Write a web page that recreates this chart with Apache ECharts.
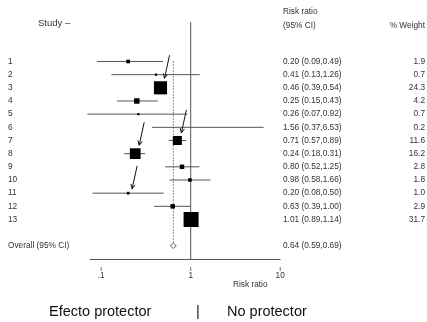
<!DOCTYPE html>
<html><head><meta charset="utf-8">
<script src="https://cdn.jsdelivr.net/npm/echarts@6/dist/echarts.min.js"></script>
<style>html,body{margin:0;padding:0;background:#fff}#c{width:427px;height:322px}</style>
</head><body><div id="c"></div>
<script>
const studies = ['1','2','3','4','5','6','7','8','9','10','11','12','13'];
const rr     = [0.20,0.41,0.46,0.25,0.26,1.56,0.71,0.24,0.80,0.98,0.20,0.63,1.01];
const lo     = [0.09,0.13,0.39,0.15,0.07,0.37,0.57,0.18,0.52,0.58,0.08,0.39,0.89];
const hi     = [0.49,1.26,0.54,0.43,0.92,6.53,0.89,0.31,1.25,1.66,0.50,1.00,1.14];
const weight = [1.9,0.7,24.3,4.2,0.7,0.2,11.6,16.2,2.8,1.8,1.0,2.9,31.7];
const overallLabel = 'Overall (95% CI)';
const overallRR = 0.64, overallLo = 0.59, overallHi = 0.69;
const tickValues = [0.1, 1, 10];
const tickLabels = ['.1', '1', '10'];
const arrowStudies = ['3','7','8','11'];

const FONT = 'Liberation Sans, Arial, sans-serif';
const TXT = '#333';
const LINE = '#555';
const RR_X = 283, W_X = 425, LAB_X = 8;
const maxW = Math.max.apply(null, weight);
function boxSide(w){ return 15*Math.sqrt(w/maxW); }
function fmtCI(a,b,c){ return a.toFixed(2)+' ('+b.toFixed(2)+','+c.toFixed(2)+')'; }

const studyData = studies.map((s,i)=>[rr[i], i+1, lo[i], hi[i], weight[i]]);
const overallRow = studies.length + 2;

const chart = echarts.init(document.getElementById('c'), null, {renderer:'canvas'});
chart.setOption({
  animation:false,
  grid:{left:90, right:146.8, top:8.8, bottom:63},
  xAxis:{type:'log', logBase:10, min:0.075, max:10, position:'bottom',
    axisLine:{show:true, onZero:false, lineStyle:{color:LINE, width:1}},
    axisTick:{show:false}, axisLabel:{show:false}, splitLine:{show:false}},
  yAxis:{type:'value', min:-3, max:16, inverse:true, show:false, splitLine:{show:false}},
  graphic:[
    {type:'text', left:38, top:18, style:{text:'Study \u2013', font:'9.5px '+FONT, fill:TXT}},
    {type:'text', left:RR_X, top:8, style:{text:'Risk ratio', font:'8.3px '+FONT, fill:TXT}},
    {type:'text', left:RR_X, top:22, style:{text:'(95% CI)', font:'8.3px '+FONT, fill:TXT}},
    {type:'text', right:2, top:22, style:{text:'% Weight', font:'8.3px '+FONT, fill:TXT}},
    {type:'text', left:233, top:281, style:{text:'Risk ratio', font:'8.3px '+FONT, fill:TXT}},
    {type:'text', left:49, top:304, style:{text:'Efecto protector', font:'14.5px '+FONT, fill:'#111'}},
    {type:'text', left:196, top:304, style:{text:'|', font:'14.5px '+FONT, fill:'#111'}},
    {type:'text', left:227, top:304, style:{text:'No protector', font:'14.5px '+FONT, fill:'#111'}}
  ],
  series:[
    { // reference line at 1 and axis ticks/labels
      type:'custom', clip:false, silent:true,
      data: tickValues.map((v,i)=>[v, 16, i]),
      renderItem:function(params, api){
        const v = api.value(0), idx = api.value(2);
        const p = api.coord([v, 16]);
        const ch = [
          {type:'line', shape:{x1:p[0], y1:p[1]+8, x2:p[0], y2:p[1]+12}, style:{stroke:'#777', lineWidth:1}},
          {type:'text', x:p[0], y:p[1]+13, style:{text:tickLabels[idx], font:'8.3px '+FONT, fill:TXT, align:'center', verticalAlign:'top'}}
        ];
        if (v === 1) {
          const t = api.coord([1, -2]);
          ch.push({type:'line', shape:{x1:t[0], y1:t[1], x2:p[0], y2:p[1]}, style:{stroke:LINE, lineWidth:1}});
        }
        return {type:'group', children:ch};
      }
    },
    { // studies
      type:'custom', clip:false, silent:true,
      data: studyData,
      renderItem:function(params, api){
        const i = params.dataIndex;
        const row = api.value(1);
        const p = api.coord([api.value(0), row]);
        const l = api.coord([api.value(2), row]);
        const h = api.coord([api.value(3), row]);
        const s = boxSide(api.value(4));
        const ch = [
          {type:'line', shape:{x1:l[0], y1:p[1], x2:h[0], y2:p[1]}, style:{stroke:LINE, lineWidth:1}},
          {type:'text', x:LAB_X, y:p[1], style:{text:studies[i], font:'8.3px '+FONT, fill:TXT, verticalAlign:'middle'}},
          {type:'text', x:RR_X, y:p[1], style:{text:fmtCI(rr[i],lo[i],hi[i]), font:'8.3px '+FONT, fill:TXT, verticalAlign:'middle'}},
          {type:'text', x:W_X, y:p[1], style:{text:weight[i].toFixed(1), font:'8.3px '+FONT, fill:TXT, align:'right', verticalAlign:'middle'}}
        ];
        if (s >= 1.5) ch.push({type:'rect', shape:{x:p[0]-s/2, y:p[1]-s/2, width:s, height:s}, style:{fill:'#000'}});
        return {type:'group', children:ch};
      }
    },
    { // overall
      type:'custom', clip:false, silent:true,
      data: [[overallRR, overallRow, overallLo, overallHi]],
      renderItem:function(params, api){
        const row = api.value(1);
        const p = api.coord([api.value(0), row]);
        const top = api.coord([api.value(0), 1]);
        const l = api.coord([api.value(2), row]);
        const h = api.coord([api.value(3), row]);
        const hh = 2.6;
        return {type:'group', children:[
          {type:'line', shape:{x1:p[0], y1:top[1], x2:p[0], y2:p[1]-hh}, style:{stroke:'#222', lineWidth:1, lineDash:[1,2]}},
          {type:'polygon', shape:{points:[[l[0],p[1]],[p[0],p[1]-hh],[h[0],p[1]],[p[0],p[1]+hh]]}, style:{fill:'#fff', stroke:'#666', lineWidth:1}},
          {type:'text', x:LAB_X, y:p[1], style:{text:overallLabel, font:'8.3px '+FONT, fill:TXT, verticalAlign:'middle'}},
          {type:'text', x:RR_X, y:p[1], style:{text:fmtCI(overallRR,overallLo,overallHi), font:'8.3px '+FONT, fill:TXT, verticalAlign:'middle'}}
        ]};
      }
    },
    { // arrows pointing at selected studies
      type:'custom', clip:false, silent:true,
      data: arrowStudies.map(s=>{const i = studies.indexOf(s); return [rr[i], i+1, weight[i]];}),
      renderItem:function(params, api){
        const p = api.coord([api.value(0), api.value(1)]);
        const s = boxSide(api.value(2));
        const tx = p[0]+4, ty = p[1]-s/2-3;
        const sx = p[0]+9, sy = ty-23;
        const ang = Math.atan2(ty-sy, tx-sx);
        const L = 5, a = 0.45;
        return {type:'group', children:[
          {type:'line', shape:{x1:sx, y1:sy, x2:tx, y2:ty}, style:{stroke:'#111', lineWidth:1}},
          {type:'polyline', shape:{points:[
            [tx - L*Math.cos(ang-a), ty - L*Math.sin(ang-a)], [tx, ty],
            [tx - L*Math.cos(ang+a), ty - L*Math.sin(ang+a)]]}, style:{stroke:'#111', lineWidth:1, fill:null}}
        ]};
      }
    }
  ]
});
</script></body></html>
